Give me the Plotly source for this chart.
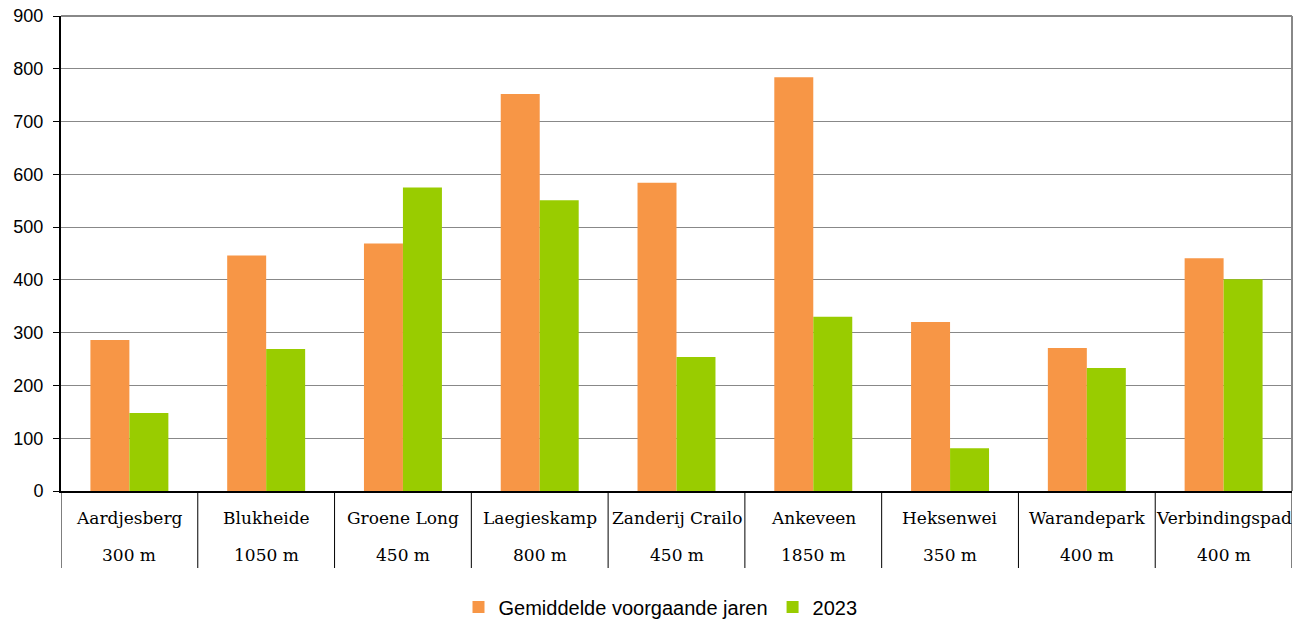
import plotly.graph_objects as go

categories = ["Aardjesberg", "Blukheide", "Groene Long", "Laegieskamp", "Zanderij Crailo",
              "Ankeveen", "Heksenwei", "Warandepark", "Verbindingspad"]
distances = ["300 m", "1050 m", "450 m", "800 m", "450 m", "1850 m", "350 m", "400 m", "400 m"]
avg_prev = [286, 446, 469, 752, 584, 784, 320, 271, 441]
y2023 = [148, 269, 575, 551, 254, 330, 81, 233, 401]
y_ticks = [0, 100, 200, 300, 400, 500, 600, 700, 800, 900]

# page body has an 8px margin; figure coordinates are offset by it
OFF = 8
W, H = 1301 - OFF, 619 - OFF
ML, MT = 61 - OFF, 16 - OFF
MR = W - (1292 - OFF)
MB = H - (491 - OFF)
plot_h = H - MT - MB
base = 491  # page y of the x axis


def py(page_y):
    return -(page_y - base) / plot_h


fig = go.Figure()
fig.add_trace(go.Bar(x=list(range(len(categories))), y=avg_prev, name="Gemiddelde voorgaande jaren",
                     marker=dict(color="#F79646", line=dict(width=0))))
fig.add_trace(go.Bar(x=list(range(len(categories))), y=y2023, name="2023",
                     marker=dict(color="#99CC00", line=dict(width=0))))

for i, (c, d) in enumerate(zip(categories, distances)):
    fig.add_annotation(x=i, y=py(518), xref="x", yref="paper", text=c, showarrow=False,
                       font=dict(family="DejaVu Serif", size=17, color="#000"), yanchor="middle")
    fig.add_annotation(x=i, y=py(555), xref="x", yref="paper", text=d, showarrow=False,
                       font=dict(family="DejaVu Serif", size=17, color="#000"), yanchor="middle")

for i in range(len(categories) + 1):
    fig.add_shape(type="line", xref="x", yref="paper", x0=i - 0.5, x1=i - 0.5, y0=0, y1=py(568),
                  line=dict(color="#000", width=1))

# top and right frame
fig.add_shape(type="line", xref="paper", yref="paper", x0=0, x1=1, y0=1, y1=1,
              line=dict(color="#888", width=2))
fig.add_shape(type="line", xref="paper", yref="paper", x0=1, x1=1, y0=0, y1=1,
              line=dict(color="#888", width=2))

fig.update_layout(
    width=W, height=H,
    margin=dict(l=ML, r=MR, t=MT, b=MB, autoexpand=False),
    paper_bgcolor="white", plot_bgcolor="white",
    barmode="group", bargap=0.43, bargroupgap=0,
    font=dict(family="Liberation Sans, Arial", size=18, color="#000"),
    showlegend=True,
    legend=dict(orientation="h", x=0.487, xanchor="center", y=py(607),
                yanchor="middle", font=dict(size=20), traceorder="normal"),
    xaxis=dict(range=[-0.5, len(categories) - 0.5], showticklabels=False, showgrid=False,
               showline=True, linecolor="#000", linewidth=2, ticks="", zeroline=False,
               automargin=False),
    yaxis=dict(range=[0, 900], tickvals=y_ticks, showgrid=True, gridcolor="#888", gridwidth=1,
               showline=True, linecolor="#000", linewidth=2, ticks="outside", ticklen=6,
               tickcolor="#000", zeroline=False, tickfont=dict(size=18), automargin=False,
               ticklabelstandoff=6, ticklabeloverflow="allow"),
)

fig.write_html("out.html")
